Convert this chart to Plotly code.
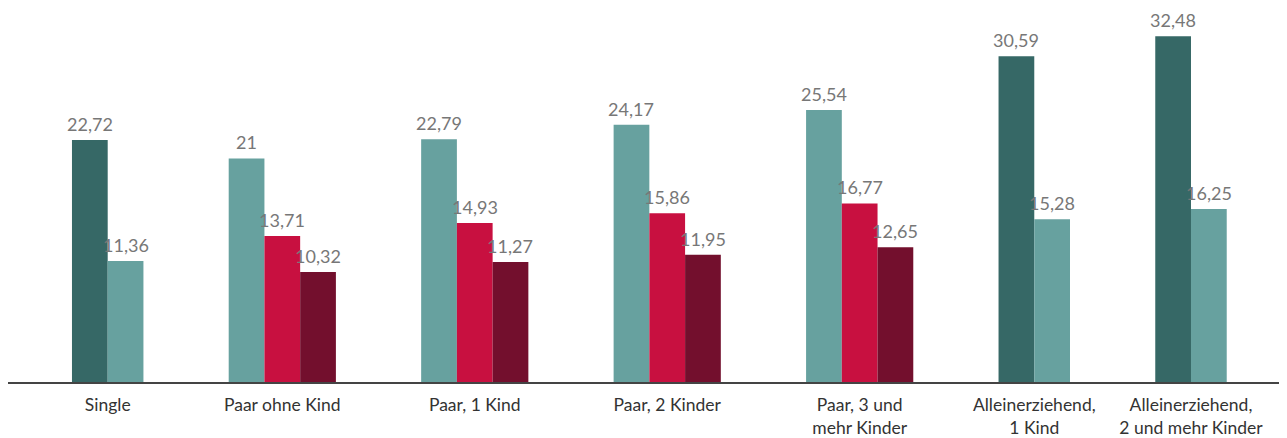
import plotly.graph_objects as go

categories = ["Single", "Paar ohne Kind", "Paar, 1 Kind", "Paar, 2 Kinder",
              "Paar, 3 und<br>mehr Kinder", "Alleinerziehend,<br>1 Kind",
              "Alleinerziehend,<br>2 und mehr Kinder"]

series_a = [22.72, None, None, None, None, 30.59, 32.48]
series_b = [11.36, 21, 22.79, 24.17, 25.54, 15.28, 16.25]
series_c = [None, 13.71, 14.93, 15.86, 16.77, None, None]
series_d = [None, 10.32, 11.27, 11.95, 12.65, None, None]

series = [series_a, series_b, series_c, series_d]
colors = ["#366866", "#67a19f", "#c81040", "#730f2d"]

GAP = 2.386  # gap between groups in bar widths

# compute bar positions: bars packed within a group, constant gap between groups
xs = [[None] * len(categories) for _ in series]
tick_pos = []
pos = 0.0
for i in range(len(categories)):
    present = [s for s in range(len(series)) if series[s][i] is not None]
    for k, s in enumerate(present):
        xs[s][i] = pos + k + 0.5
    tick_pos.append(pos + len(present) / 2)
    pos += len(present) + GAP
total = pos - GAP

def fmt(v):
    return f"{v:g}".replace(".", ",")

fig = go.Figure()
annotations = []
for s, vals in enumerate(series):
    x = [xs[s][i] for i in range(len(categories)) if vals[i] is not None]
    y = [v for v in vals if v is not None]
    fig.add_trace(go.Bar(x=x, y=y, width=1.0, marker=dict(color=colors[s], line=dict(width=0)),
                         showlegend=False, hoverinfo="y"))
    for xx, yy in zip(x, y):
        annotations.append(dict(x=xx, y=yy, text=fmt(yy), showarrow=False, yanchor="bottom",
                                xanchor="center", yshift=4, borderpad=0,
                                font=dict(family="Lato", size=18, color="#777777")))

fig.update_layout(
    width=1279, height=430,
    margin=dict(l=0, r=0, t=12, b=53),
    paper_bgcolor="white", plot_bgcolor="white",
    barmode="overlay",
    annotations=annotations,
    font=dict(family="Lato", size=17.5, color="#333333"),
    xaxis=dict(range=[-64 / 35.75, total + 60.3 / 35.75], tickvals=tick_pos, ticktext=categories,
               showgrid=False, zeroline=False, showline=True, linecolor="#444444", linewidth=2,
               ticks="outside", ticklen=6, tickcolor="rgba(0,0,0,0)",
               tickfont=dict(family="Lato", size=17.5, color="#333333")),
    yaxis=dict(range=[0, 34], visible=False, showgrid=False, zeroline=False),
)

fig.write_html("out.html")
